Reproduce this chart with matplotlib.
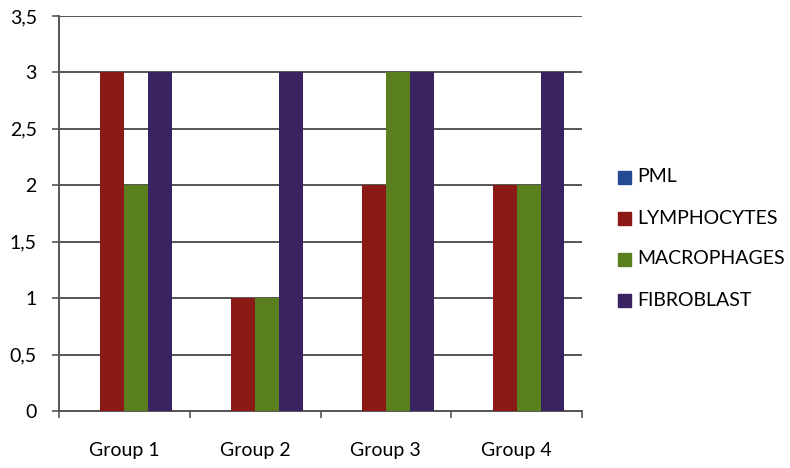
import matplotlib.pyplot as plt
import numpy as np
from matplotlib.patches import Rectangle
from matplotlib.ticker import FuncFormatter

# data
groups = ["Group 1", "Group 2", "Group 3", "Group 4"]
series = ["PML", "LYMPHOCYTES", "MACROPHAGES", "FIBROBLAST"]
pml = [0, 0, 0, 0]
lymphocytes = [3, 1, 2, 2]
macrophages = [2, 1, 3, 2]
fibroblast = [3, 3, 3, 3]
colors = ["#254a94", "#8b1a17", "#5a7f1f", "#3b2260"]

plt.rcParams['font.family'] = ['Lato', 'DejaVu Sans']

W, H = 790, 468
fig = plt.figure(figsize=(W / 100, H / 100), dpi=100)
ax = fig.add_axes([59 / W, 1 - 411 / H, (582 - 59) / W, (411 - 16) / H])

width = 0.183
x = np.arange(len(groups)) + 0.5
for i, (vals, c) in enumerate(zip([pml, lymphocytes, macrophages, fibroblast], colors)):
    ax.bar(x + (i - 1.5) * width, vals, width, color=c, label=series[i], zorder=3)

ax.set_xlim(0, 4)
ax.set_ylim(0, 3.5)
ax.set_yticks(np.arange(0, 3.51, 0.5))
ax.yaxis.set_major_formatter(FuncFormatter(lambda v, p: f"{v:g}".replace(".", ",")))
ax.grid(axis='y', color='#555555', linewidth=1.4, zorder=1)
ax.tick_params(axis='y', direction='out', length=5, width=1.2, color='#555555',
               labelsize=14, pad=11)

# boundary ticks between groups, labels at group centres
ax.set_xticks([0, 1, 2, 3, 4])
ax.set_xticklabels([])
ax.tick_params(axis='x', which='major', direction='out', length=5, width=1.2, color='#555555')
ax.set_xticks(x, minor=True)
ax.set_xticklabels(groups, minor=True)
ax.tick_params(axis='x', which='minor', length=0, labelsize=14, pad=22)

for s in ['top', 'right']:
    ax.spines[s].set_visible(False)
for s in ['left', 'bottom']:
    ax.spines[s].set_color('#555555')
    ax.spines[s].set_linewidth(1.4)

# legend on the right, square markers
for i, (name, c) in enumerate(zip(series, colors)):
    yc = 177 + i * 41
    fig.add_artist(Rectangle((618 / W, 1 - (yc + 6.5) / H), 13 / W, 13 / H,
                             transform=fig.transFigure, color=c))
    fig.text(637 / W, 1 - yc / H, name, fontsize=14, va='center', ha='left')

fig.savefig("out.png", dpi=100)
